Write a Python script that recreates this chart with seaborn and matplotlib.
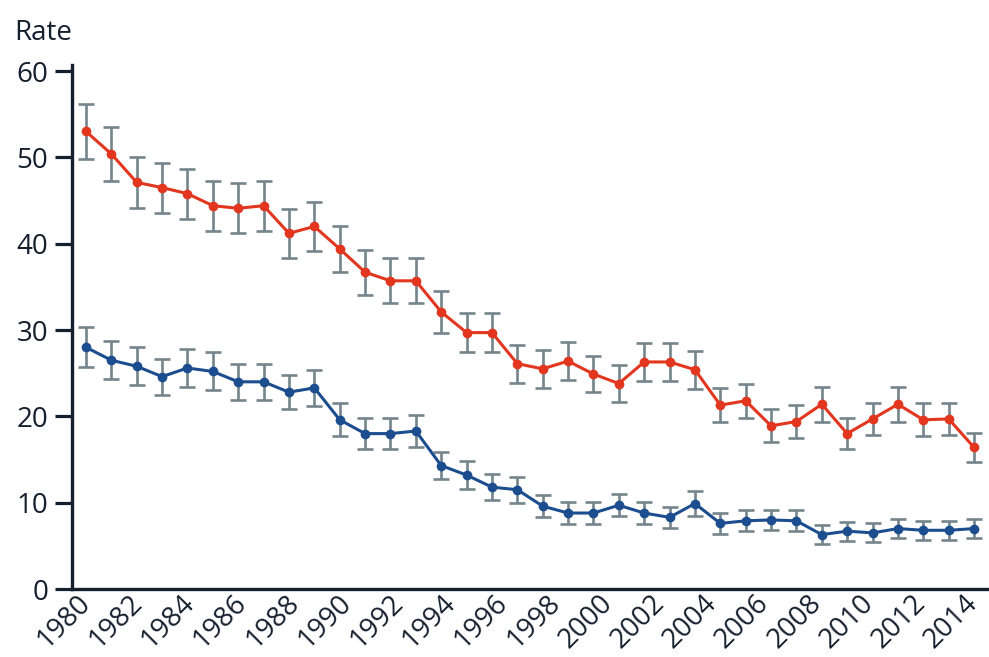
import numpy as np
import pandas as pd
import matplotlib
matplotlib.use("Agg")
import matplotlib.pyplot as plt
import seaborn as sns

# Annual rates with half-width of the confidence interval
years = list(range(1980, 2016))

rate_high = [53.0, 50.4, 47.1, 46.5, 45.8, 44.4, 44.1, 44.4, 41.2, 42.0,
             39.4, 36.7, 35.7, 35.7, 32.1, 29.7, 29.7, 26.1, 25.5, 26.4,
             24.9, 23.8, 26.3, 26.3, 25.4, 21.3, 21.8, 18.9, 19.4, 21.4,
             18.0, 19.7, 21.4, 19.6, 19.7, 16.4]
err_high = [3.2, 3.1, 3.0, 2.9, 2.9, 2.9, 2.9, 2.9, 2.8, 2.8,
            2.7, 2.6, 2.6, 2.6, 2.4, 2.3, 2.3, 2.2, 2.2, 2.2,
            2.1, 2.1, 2.2, 2.2, 2.2, 2.0, 2.0, 1.9, 1.9, 2.0,
            1.8, 1.9, 2.0, 1.9, 1.9, 1.7]

rate_low = [28.0, 26.5, 25.8, 24.6, 25.6, 25.2, 24.0, 24.0, 22.8, 23.3,
            19.6, 18.0, 18.0, 18.3, 14.3, 13.2, 11.8, 11.5, 9.6, 8.8,
            8.8, 9.7, 8.8, 8.3, 9.9, 7.6, 7.9, 8.0, 7.9, 6.3,
            6.7, 6.5, 7.0, 6.8, 6.8, 7.0]
err_low = [2.3, 2.2, 2.2, 2.1, 2.2, 2.2, 2.1, 2.1, 2.0, 2.1,
           1.9, 1.8, 1.8, 1.8, 1.6, 1.6, 1.5, 1.5, 1.3, 1.3,
           1.3, 1.3, 1.3, 1.2, 1.4, 1.2, 1.2, 1.2, 1.2, 1.1,
           1.1, 1.1, 1.1, 1.1, 1.1, 1.1]

tick_labels = ["1980", "1982", "1984", "1986", "1988", "1990", "1992",
               "1994", "1996", "1998", "2000", "2002", "2004", "2006",
               "2008", "2010", "2012", "2014"]
y_ticks = [0, 10, 20, 30, 40, 50, 60]

df = pd.concat([
    pd.DataFrame({"year": years, "rate": rate_high, "err": err_high, "group": "high"}),
    pd.DataFrame({"year": years, "rate": rate_low, "err": err_low, "group": "low"}),
], ignore_index=True)

colors = {"high": "#e2361f", "low": "#1c4d8e"}
axis_color = "#15202e"
font_size = 20

sns.set_style("white")
plt.rcParams["font.family"] = ["Open Sans", "DejaVu Sans"]

fig = plt.figure(figsize=(9.89, 6.57), dpi=100)
ax = fig.add_axes([72 / 989, 1 - 589 / 657, (988 - 72) / 989, (589 - 65) / 657])

# confidence interval whiskers sit beneath the lines
for name, sub in df.groupby("group"):
    ax.errorbar(sub["year"], sub["rate"], yerr=sub["err"], fmt="none",
                ecolor="#74858c", elinewidth=1.9, capsize=6, capthick=1.9,
                zorder=2)

sns.lineplot(data=df, x="year", y="rate", hue="group", palette=colors,
             marker="o", markersize=7, markeredgewidth=0, linewidth=2.2,
             legend=False, ax=ax, zorder=3)

ax.set_xlim(1979.45, 2015.55)
ax.set_ylim(0, 60.7)
ax.set_xlabel("")
ax.set_ylabel("")

ax.set_yticks(y_ticks)
ax.set_yticklabels([str(v) for v in y_ticks])
ax.set_xticks(np.linspace(years[0], years[-1], len(tick_labels)))
ax.set_xticklabels(tick_labels, rotation=45, ha="right", va="center",
                   rotation_mode="anchor")

ax.tick_params(axis="y", direction="out", length=12, width=2.3,
               color=axis_color, labelsize=font_size, labelcolor=axis_color,
               pad=5, left=True)
ax.tick_params(axis="x", length=0, labelsize=font_size, labelcolor=axis_color,
               pad=7)

for side in ("top", "right"):
    ax.spines[side].set_visible(False)
for side in ("left", "bottom"):
    ax.spines[side].set_color(axis_color)
    ax.spines[side].set_linewidth(2.4)

fig.text(14 / 989, 1 - 40 / 657, "Rate", fontsize=font_size, color=axis_color,
         ha="left", va="baseline")

fig.savefig("out.png", dpi=100)
